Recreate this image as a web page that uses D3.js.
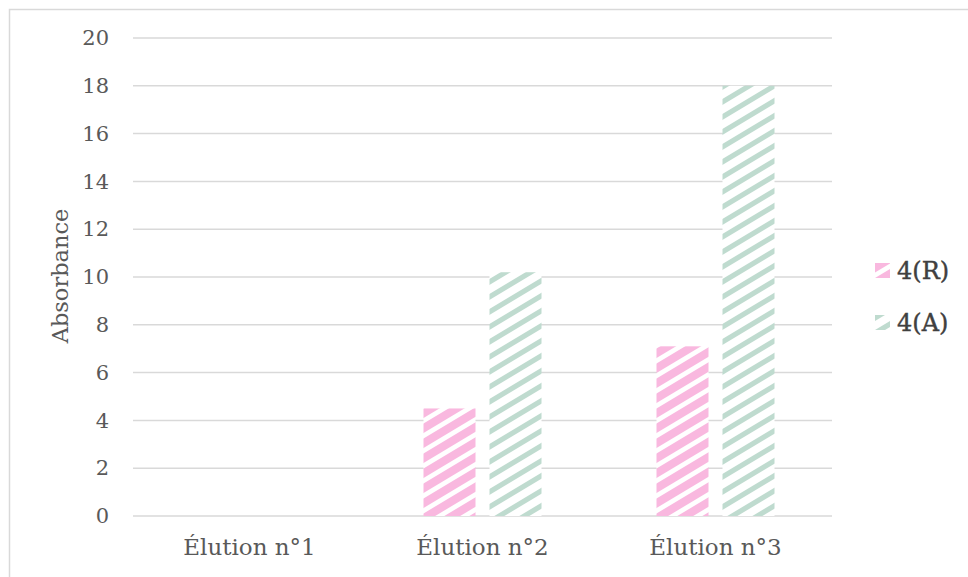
<!DOCTYPE html>
<html lang="fr">
<head>
<meta charset="utf-8">
<title>Absorbance</title>
<script src="https://d3js.org/d3.v7.min.js"></script>
<style>
  body { margin: 0; background: #fff; }
  svg text { font-family: "DejaVu Serif", "Liberation Serif", serif; }
</style>
</head>
<body>
<div id="chart"></div>
<script>
// data
var categories = ["Élution n°1", "Élution n°2", "Élution n°3"];
var seriesNames = ["4(R)", "4(A)"];
var valuesR = [0, 4.5, 7.1];
var valuesA = [0, 10.2, 18.0];
var yTicks = [0, 2, 4, 6, 8, 10, 12, 14, 16, 18, 20];

var W = 968, H = 577;
var margin = {top: 38, right: 136, bottom: 61, left: 133};
var width = W - margin.left - margin.right,
    height = H - margin.top - margin.bottom;

var svg = d3.select("#chart").append("svg")
  .attr("width", W)
  .attr("height", H);

// stripe patterns (upward diagonal)
var defs = svg.append("defs");
var pw = 25, ph = 15;
function stripe(id, color, t) {
  var p = defs.append("pattern")
    .attr("id", id)
    .attr("patternUnits", "userSpaceOnUse")
    .attr("width", pw)
    .attr("height", ph);
  p.append("rect").attr("width", pw).attr("height", ph).attr("fill", "#fff");
  var d = "";
  [-ph, 0, ph, 2 * ph].forEach(function(c) {
    d += "M0," + c + "L" + pw + "," + (c - ph) + "L" + pw + "," + (c - ph + t) + "L0," + (c + t) + "Z";
  });
  p.append("path").attr("d", d).attr("fill", color);
}
stripe("pR", "#F9B8DF", 9.5);
stripe("pA", "#BFDBCF", 6);
var fills = {"4(R)": "url(#pR)", "4(A)": "url(#pA)"};

// chart frame
svg.append("rect")
  .attr("x", 9.5).attr("y", 9.5)
  .attr("width", 980).attr("height", 600)
  .attr("fill", "none")
  .attr("stroke", "#D9D9D9")
  .attr("stroke-width", 1.5);

var g = svg.append("g")
  .attr("transform", "translate(" + margin.left + "," + margin.top + ")");

var x0 = d3.scaleBand().domain(categories).range([0, width]);
var x1 = d3.scaleBand().domain(seriesNames).range([0, x0.bandwidth()])
  .paddingInner(0.212).paddingOuter(0.871);
var y = d3.scaleLinear().domain([0, 20]).range([height, 0]);

// gridlines
g.selectAll(".grid").data(yTicks).enter().append("line")
  .attr("class", "grid")
  .attr("x1", 0).attr("x2", width)
  .attr("y1", function(d) { return y(d); })
  .attr("y2", function(d) { return y(d); })
  .attr("stroke", "#D9D9D9")
  .attr("stroke-width", 1.5);

// y axis labels
var yAxis = g.append("g")
  .call(d3.axisLeft(y).tickValues(yTicks).tickSize(0).tickPadding(24));
yAxis.select(".domain").remove();
yAxis.selectAll("text")
  .attr("fill", "#595959")
  .style("font-size", "21px");

// x axis labels
var xAxis = g.append("g")
  .attr("transform", "translate(0," + height + ")")
  .call(d3.axisBottom(x0).tickSize(0).tickPadding(23));
xAxis.select(".domain").remove();
xAxis.selectAll("text")
  .attr("fill", "#595959")
  .style("font-size", "23px");

// bars
var rows = categories.map(function(c, i) {
  return [{cat: c, s: "4(R)", v: valuesR[i]}, {cat: c, s: "4(A)", v: valuesA[i]}];
});
g.selectAll(".grp").data(rows).enter().append("g")
  .attr("class", "grp")
  .attr("transform", function(d) { return "translate(" + x0(d[0].cat) + ",0)"; })
  .selectAll("rect").data(function(d) { return d; }).enter().append("rect")
    .attr("x", function(d) { return x1(d.s); })
    .attr("y", function(d) { return y(d.v); })
    .attr("width", x1.bandwidth())
    .attr("height", function(d) { return height - y(d.v); })
    .attr("fill", function(d) { return fills[d.s]; });

// y axis title
svg.append("text")
  .attr("transform", "translate(68," + (margin.top + height / 2 - 1) + ") rotate(-90)")
  .attr("text-anchor", "middle")
  .attr("fill", "#595959")
  .style("font-size", "22.5px")
  .text("Absorbance");

// legend
var leg = svg.selectAll(".leg").data(seriesNames).enter().append("g")
  .attr("class", "leg")
  .attr("transform", function(d, i) { return "translate(875," + (263 + i * 52) + ")"; });
leg.append("rect")
  .attr("width", 15).attr("height", 15)
  .attr("fill", function(d) { return fills[d]; });
leg.append("text")
  .attr("x", 22).attr("y", 7.5)
  .attr("dy", "0.36em")
  .attr("fill", "#404040")
  .attr("stroke", "#404040")
  .attr("stroke-width", 0.4)
  .style("font-size", "24px")
  .text(function(d) { return d; });
</script>
</body>
</html>
